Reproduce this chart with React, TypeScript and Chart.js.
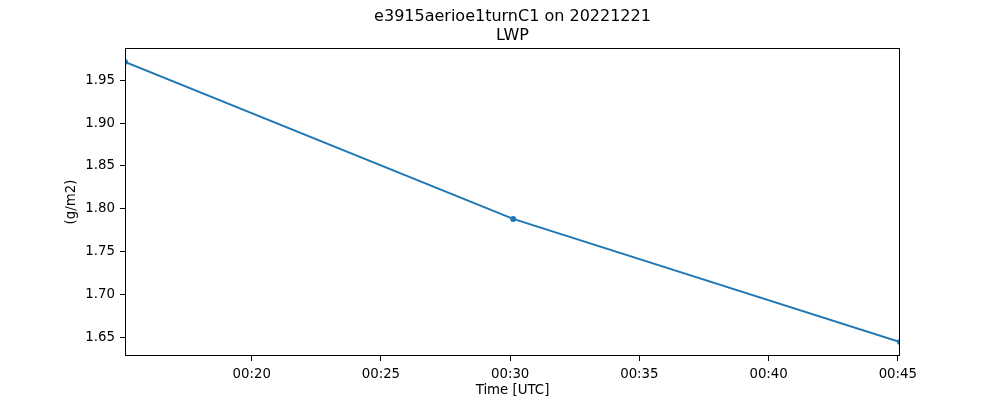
import React, { useEffect, useRef } from "react";
import { Chart, registerables } from "chart.js";

Chart.register(...registerables);

// Observation times (UTC, hh:mm:ss) and LWP values
const times = ["00:15:06", "00:30:07", "00:45:05"];
const lwp = [1.9713, 1.7882, 1.6445];

const xTickLabels = ["00:20", "00:25", "00:30", "00:35", "00:40", "00:45"];
const yTickValues = [1.65, 1.7, 1.75, 1.8, 1.85, 1.9, 1.95];

const titleLines = ["e3915aerioe1turnC1 on 20221221", "LWP"];
const xAxisTitle = "Time [UTC]";
const yAxisTitle = "(g/m2)";

const toMinutes = (t: string) => {
  const [h, m, s] = t.split(":").map(Number);
  return h * 60 + m + (s || 0) / 60;
};

const FONT = "'DejaVu Sans', sans-serif";

export default function App() {
  const ref = useRef<HTMLCanvasElement | null>(null);

  useEffect(() => {
    if (!ref.current) return;
    const xs = times.map(toMinutes);
    const xMin = Math.min(...xs);
    const xMax = Math.max(...xs);
    const yLo = Math.min(...lwp);
    const yHi = Math.max(...lwp);
    const margin = (yHi - yLo) * 0.05;
    const xTickValues = xTickLabels.map((l) => toMinutes(l + ":00"));

    const boxPlugin = {
      id: "box",
      afterDraw(chart: any) {
        const { ctx, chartArea } = chart;
        ctx.save();
        ctx.strokeStyle = "#000";
        ctx.lineWidth = 1;
        ctx.strokeRect(
          Math.round(chartArea.left) + 0.5,
          Math.round(chartArea.top) + 0.5,
          Math.round(chartArea.right - chartArea.left) - 1,
          Math.round(chartArea.bottom - chartArea.top) - 1
        );
        // centered title over the plot area
        const cx = (chartArea.left + chartArea.right) / 2;
        ctx.fillStyle = "#000";
        ctx.font = `16px ${FONT}`;
        ctx.textAlign = "center";
        ctx.textBaseline = "alphabetic";
        ctx.fillText(titleLines[0], cx, 21);
        ctx.fillText(titleLines[1], cx, 39.5);
        ctx.restore();
      },
    };

    const chart = new Chart(ref.current, {
      type: "line",
      data: {
        datasets: [
          {
            data: xs.map((x, i) => ({ x, y: lwp[i] })),
            borderColor: "#1f77b4",
            backgroundColor: "#1f77b4",
            borderWidth: 2,
            pointRadius: 3,
            pointBorderWidth: 0,
            pointHoverRadius: 3,
            tension: 0,
          },
        ],
      },
      options: {
        responsive: false,
        animation: false,
        layout: { padding: { left: 0, right: 100, top: 48, bottom: 0 } },
        plugins: {
          legend: { display: false },
          tooltip: { enabled: false },
          title: { display: false },
        },
        scales: {
          x: {
            type: "linear",
            min: xMin,
            max: xMax,
            afterFit(scale: any) {
              scale.height = 44;
            },
            afterBuildTicks(scale: any) {
              scale.ticks = xTickValues.map((v) => ({ value: v }));
            },
            ticks: {
              color: "#000",
              font: { family: FONT, size: 13.33 },
              padding: 6,
              maxRotation: 0,
              autoSkip: false,
              callback: (v: any) => {
                const i = xTickValues.indexOf(Number(v));
                return i >= 0 ? xTickLabels[i] : "";
              },
            },
            grid: {
              drawOnChartArea: false,
              drawTicks: true,
              tickLength: 5,
              color: "#000",
            },
            border: { display: false },
            title: {
              display: true,
              text: xAxisTitle,
              color: "#000",
              font: { family: FONT, size: 13.33 },
              padding: { top: 0, bottom: 1 },
            },
          },
          y: {
            type: "linear",
            min: yLo - margin,
            max: yHi + margin,
            afterFit(scale: any) {
              scale.width = 125;
            },
            afterBuildTicks(scale: any) {
              scale.ticks = yTickValues.map((v) => ({ value: v }));
            },
            ticks: {
              color: "#000",
              font: { family: FONT, size: 13.33 },
              padding: 5,
              autoSkip: false,
              callback: (v: any) => Number(v).toFixed(2),
            },
            grid: {
              drawOnChartArea: false,
              drawTicks: true,
              tickLength: 5,
              color: "#000",
            },
            border: { display: false },
            title: {
              display: true,
              text: yAxisTitle,
              color: "#000",
              font: { family: FONT, size: 13.33 },
              padding: { top: 64, bottom: 0 },
            },
          },
        },
      },
      plugins: [boxPlugin],
    });

    return () => chart.destroy();
  }, []);

  return (
    <div style={{ position: "fixed", left: 0, top: 0, width: 1000, height: 400, background: "#fff" }}>
      <canvas ref={ref} width={1000} height={400} />
    </div>
  );
}
